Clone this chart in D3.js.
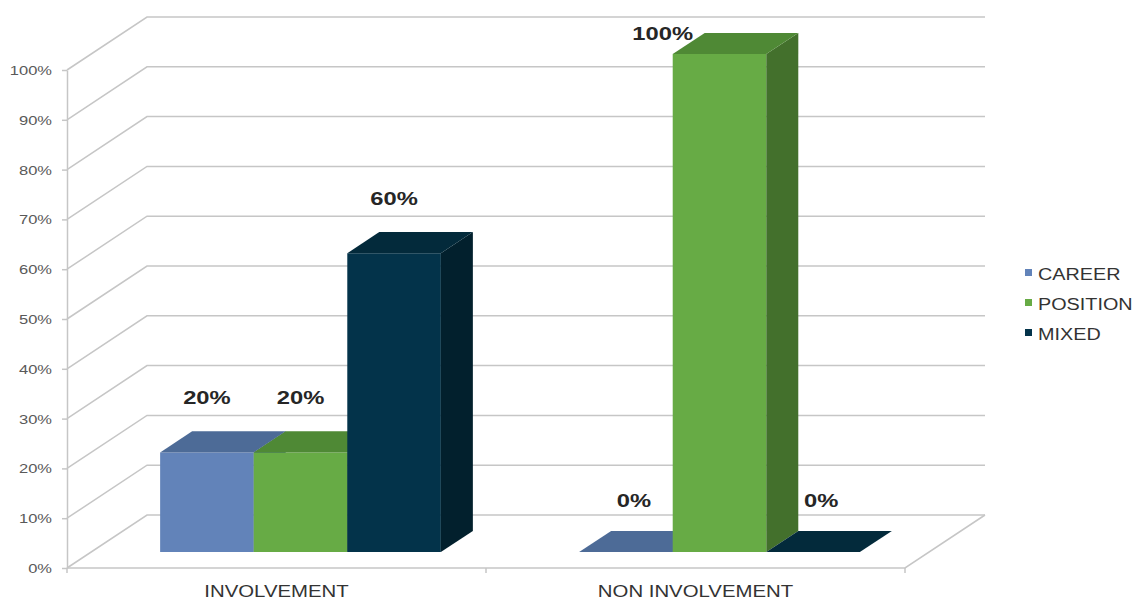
<!DOCTYPE html>
<html>
<head>
<meta charset="utf-8">
<script src="https://cdn.jsdelivr.net/npm/d3@7"></script>
<style>
  html, body { margin: 0; padding: 0; background: #ffffff; }
  svg { display: block; }
  text { font-family: "Liberation Sans", Arial, sans-serif; }
</style>
</head>
<body>
<svg id="chart" width="1142" height="601"></svg>
<script>
// Chart data
const categories = ["INVOLVEMENT", "NON INVOLVEMENT"];
const seriesNames = ["CAREER", "POSITION", "MIXED"];
const careerValues = [0.20, 0.00];
const positionValues = [0.20, 1.00];
const mixedValues = [0.60, 0.00];
const yTicks = [0, 0.1, 0.2, 0.3, 0.4, 0.5, 0.6, 0.7, 0.8, 0.9, 1.0];

const seriesValues = [careerValues, positionValues, mixedValues];

// Face colours per series: front, top, side
const palette = {
  CAREER:   { front: "#6283b9", top: "#4d6b97", side: "#44628f" },
  POSITION: { front: "#67ab45", top: "#4f8935", side: "#43702c" },
  MIXED:    { front: "#03334a", top: "#032a3b", side: "#02202d" }
};

const svg = d3.select("#chart");

// Oblique 3D box: front plane and back wall offset
const plotLeft = 67, plotRight = 905;
const depthDX = 80, depthDY = -53;
const y = d3.scaleLinear().domain([0, 1]).range([568, 70]);
const x0 = d3.scaleBand().domain(categories).range([plotLeft, plotRight]).padding(0);
const groupW = x0.bandwidth() * 0.67;
const groupOff = (x0.bandwidth() - groupW) / 2;
const x1 = d3.scaleBand().domain(seriesNames).range([0, groupW]).padding(0);

// bar occupies depth fraction [d0, d1]
const d0 = 0.30, d1 = 0.70;
const P = (wx, v, d) => [wx + depthDX * d, y(v) + depthDY * d];

const gridColor = "#c6c6c6";
const grid = svg.append("g");

// back wall gridlines + left wall diagonals
yTicks.forEach(t => {
  const a = P(plotLeft, t, 0), b = P(plotLeft, t, 1), c = P(plotRight, t, 1);
  grid.append("path")
    .attr("d", `M${a[0]},${a[1]}L${b[0]},${b[1]}L${c[0]},${c[1]}`)
    .attr("fill", "none").attr("stroke", gridColor).attr("stroke-width", 1.5);
});
// floor right edge and front edge
{
  const a = P(plotLeft, 0, 0), b = P(plotRight, 0, 0), c = P(plotRight, 0, 1);
  grid.append("path")
    .attr("d", `M${a[0]},${a[1]}L${b[0]},${b[1]}L${c[0]},${c[1]}`)
    .attr("fill", "none").attr("stroke", gridColor).attr("stroke-width", 1.5);
}

// y axis line + ticks on the front plane
const axisG = svg.append("g").attr("transform", `translate(${plotLeft},0)`);
const yAxis = d3.axisLeft(y).tickValues(yTicks).tickSize(5).tickSizeOuter(0)
  .tickFormat(d3.format(".0%"));
axisG.call(yAxis);
axisG.select(".domain").attr("stroke", gridColor).attr("stroke-width", 1.5);
axisG.selectAll(".tick line").attr("stroke", gridColor).attr("stroke-width", 1.5);
axisG.selectAll(".tick text").each(function () {
  const t = d3.select(this);
  t.attr("x", null).attr("dy", null)
   .attr("transform", "translate(-15,4.5) scale(1.27,1)")
   .attr("font-size", 13).attr("fill", "#595959")
   .attr("font-family", "Liberation Sans, Arial, sans-serif");
});

// category axis ticks along the floor front edge
const xTickPos = [plotLeft, plotLeft + x0.bandwidth(), plotRight];
xTickPos.forEach(px => {
  svg.append("line").attr("x1", px).attr("x2", px)
    .attr("y1", y(0)).attr("y2", y(0) + 5)
    .attr("stroke", gridColor).attr("stroke-width", 1.5);
});

// horizontally stretched text helper
function sText(g, x, yy, str, size, weight, fill, anchor, sx) {
  return g.append("text")
    .attr("transform", `translate(${x},${yy}) scale(${sx || 1.25},1)`)
    .attr("text-anchor", anchor || "middle")
    .attr("font-size", size).attr("font-weight", weight || "normal")
    .attr("fill", fill).text(str);
}

// category labels
categories.forEach(c => {
  sText(svg, x0(c) + x0.bandwidth() / 2, 597, c, 16.3, "normal", "#333333");
});

// bars
const bars = svg.append("g");
const labels = [];
categories.forEach((c, ci) => {
  seriesNames.forEach((s, si) => {
    const v = seriesValues[si][ci];
    const col = palette[s];
    const wl = x0(c) + groupOff + x1(s);
    const wr = wl + x1.bandwidth();
    const fbl = P(wl, 0, d0), fbr = P(wr, 0, d0);
    const ftl = P(wl, v, d0), ftr = P(wr, v, d0);
    const btl = P(wl, v, d1), btr = P(wr, v, d1);
    const bbr = P(wr, 0, d1);
    const poly = pts => "M" + pts.map(p => p.join(",")).join("L") + "Z";
    if (v > 0) {
      bars.append("path").attr("d", poly([fbl, fbr, ftr, ftl])).attr("fill", col.front);
      bars.append("path").attr("d", poly([fbr, bbr, btr, ftr])).attr("fill", col.side);
    }
    bars.append("path").attr("d", poly([ftl, ftr, btr, btl])).attr("fill", col.top);

    // value label above the bar
    let lx = (ftl[0] + ftr[0]) / 2;
    let ly = btl[1] - 27;
    if (v === 0) { lx += 8; ly += 3; }
    if (ly < 40) { ly = 40; lx = ftl[0] - 10; }
    labels.push({ x: lx, y: ly, text: d3.format(".0%")(v) });
  });
});
const labG = svg.append("g");
labels.forEach(l => sText(labG, l.x, l.y, l.text, 19, "bold", "#262626"));

// legend
const legend = svg.append("g");
seriesNames.forEach((s, i) => {
  const by = 280 + i * 30;
  legend.append("rect").attr("x", 1025).attr("y", by - 11).attr("width", 7).attr("height", 7)
    .attr("fill", palette[s].front);
  sText(legend, 1038, by, s, 16.5, "normal", "#333333", "start", 1.2);
});
</script>
</body>
</html>
